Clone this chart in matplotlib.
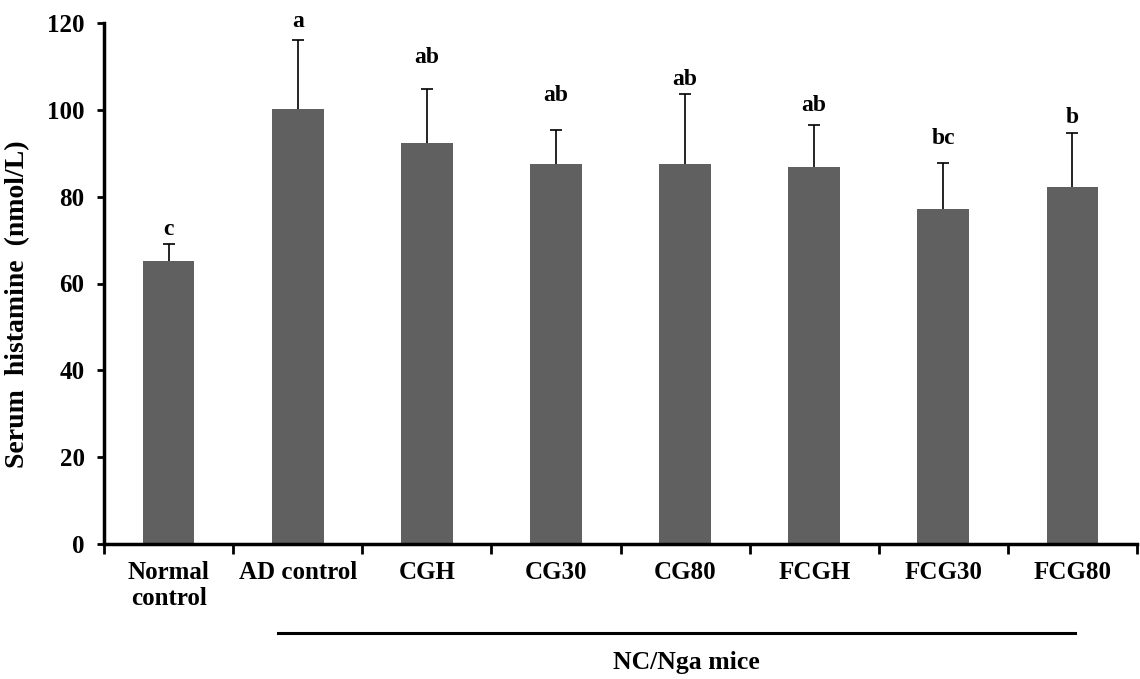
import matplotlib
matplotlib.use("Agg")
import matplotlib.pyplot as plt
from matplotlib.lines import Line2D
import numpy as np

# Serum histamine per group (mean and error, nmol/L)
groups = ["Normal\ncontrol", "AD control", "CGH", "CG30", "CG80", "FCGH", "FCG30", "FCG80"]
means = [65.2, 100.3, 92.4, 87.5, 87.5, 86.8, 77.2, 82.3]
errors = [3.9, 15.8, 12.5, 7.9, 16.2, 9.8, 10.6, 12.3]
letters = ["c", "a", "ab", "ab", "ab", "ab", "bc", "b"]
letter_y = [72.4, 120.4, 112.1, 103.3, 107.0, 101.0, 93.4, 98.3]
y_ticks = [0, 20, 40, 60, 80, 100, 120]

plt.rcParams["font.family"] = ["Liberation Serif", "DejaVu Serif"]
plt.rcParams["font.weight"] = "bold"

fig = plt.figure(figsize=(11.4, 6.79), dpi=100)
ax = fig.add_axes([104 / 1140, 1 - 544 / 679, (1137 - 104) / 1140, (544 - 23) / 679])

x = np.arange(len(groups)) + 0.5
ax.bar(x, means, width=0.40, color="#606060", zorder=2)
_, caps, _ = ax.errorbar(x, means, yerr=[np.zeros(len(errors)), errors], fmt="none",
                         ecolor="black", elinewidth=1.2, capsize=4, capthick=1.2,
                         zorder=3)
# only the upper whisker carries a cap
for cap in caps:
    if np.allclose(cap.get_ydata(), means):
        cap.set_visible(False)

for xi, lab, ly in zip(x, letters, letter_y):
    ax.text(xi, ly, lab, ha="center", va="center", fontsize=17,
            fontweight="bold", clip_on=False)

ax.set_xlim(0, len(groups))
ax.set_ylim(0, 120)

# y axis
ax.set_yticks(y_ticks)
ax.set_yticklabels([str(t) for t in y_ticks], fontsize=18, fontweight="bold")
ax.tick_params(axis="y", direction="out", length=5, width=2, pad=9)

# x axis: ticks at group boundaries, labels centred under bars
ax.set_xticks(np.arange(len(groups) + 1))
ax.set_xticklabels([])
ax.tick_params(axis="x", which="major", direction="out", length=7, width=2)
ax.set_xticks(x, minor=True)
ax.set_xticklabels(groups, minor=True, fontsize=18, fontweight="bold",
                   linespacing=1.2, ha="center", multialignment="center")
ax.tick_params(axis="x", which="minor", length=0, pad=12)

for side in ("top", "right"):
    ax.spines[side].set_visible(False)
for side in ("left", "bottom"):
    ax.spines[side].set_linewidth(2.5)

fig.text(18 / 1140, 1 - 304 / 679, "Serum  histamine  (nmol/L)", rotation=90,
         ha="center", va="center", fontsize=20, fontweight="bold")

# bracket line marking the NC/Nga mice groups
fig.add_artist(Line2D([278 / 1140, 1075 / 1140], [1 - 633 / 679, 1 - 633 / 679],
                      color="black", linewidth=2.2))
fig.text(686 / 1140, 1 - 663 / 679, "NC/Nga mice", ha="center", va="center",
         fontsize=18.5, fontweight="bold")

fig.savefig("out.png", dpi=100)
